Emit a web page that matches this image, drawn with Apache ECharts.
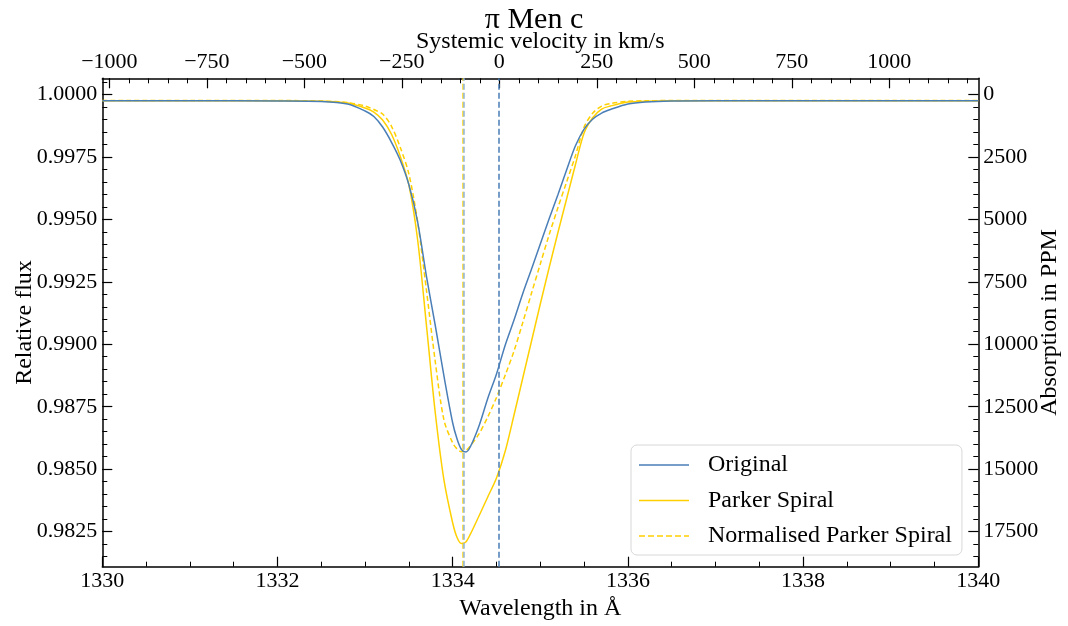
<!DOCTYPE html>
<html><head><meta charset="utf-8">
<script src="https://cdn.jsdelivr.net/npm/echarts@6/dist/echarts.min.js"></script>
<style>html,body{margin:0;padding:0;background:#fff}#c{width:1068px;height:626px}</style>
</head><body><div id="c"></div>
<script>
// ---- data ----
const wavelength = [1330, 1331, 1332, 1332.5, 1332.8, 1333.0, 1333.1, 1333.2, 1333.3, 1333.4, 1333.5, 1333.6, 1333.7, 1333.8, 1333.9, 1334.0, 1334.05, 1334.1, 1334.15, 1334.2, 1334.3, 1334.4, 1334.5, 1334.6, 1334.7, 1334.8, 1334.9, 1335.0, 1335.1, 1335.2, 1335.3, 1335.4, 1335.5, 1335.6, 1335.7, 1335.8, 1336.0, 1336.2, 1336.5, 1337, 1338, 1339, 1340];
const original = [0.99974, 0.99974, 0.99973, 0.99971, 0.99961, 0.99933, 0.99911, 0.99869, 0.99809, 0.99737, 0.99638, 0.99489, 0.99273, 0.99077, 0.98873, 0.98685, 0.98621, 0.98579, 0.98569, 0.98589, 0.98673, 0.98783, 0.98881, 0.98997, 0.99097, 0.99203, 0.99301, 0.99401, 0.99501, 0.99597, 0.99697, 0.99793, 0.99861, 0.99901, 0.99925, 0.99939, 0.99961, 0.99969, 0.99973, 0.99974, 0.99974, 0.99974, 0.99974];
const parker = [0.99974, 0.99974, 0.99974, 0.99972, 0.99965, 0.99945, 0.99929, 0.99897, 0.99841, 0.99753, 0.99637, 0.99417, 0.99077, 0.98729, 0.98457, 0.98285, 0.98227, 0.98203, 0.98209, 0.98239, 0.98313, 0.98389, 0.98465, 0.98573, 0.98717, 0.98865, 0.99013, 0.99161, 0.99305, 0.99445, 0.99581, 0.99717, 0.99845, 0.99907, 0.99941, 0.99953, 0.99969, 0.99972, 0.99974, 0.99974, 0.99974, 0.99974, 0.99974];
const normalised = [0.99975, 0.99975, 0.99975, 0.99973, 0.99967, 0.99953, 0.99939, 0.99921, 0.99873, 0.99789, 0.99681, 0.99489, 0.99217, 0.98933, 0.98697, 0.98605, 0.98581, 0.98570, 0.98575, 0.98593, 0.98641, 0.98709, 0.98787, 0.98877, 0.98973, 0.99087, 0.99205, 0.99321, 0.99437, 0.99545, 0.99649, 0.99753, 0.99869, 0.99925, 0.99953, 0.99963, 0.99972, 0.99974, 0.99975, 0.99975, 0.99975, 0.99975, 0.99975];
const verticalLines = [1334.53, 1334.105, 1334.135];   // rest wavelength, Parker minimum, original minimum

const fluxTicks = [0.9825, 0.9850, 0.9875, 0.9900, 0.9925, 0.9950, 0.9975, 1.0000];
const ppmTicks = [0, 2500, 5000, 7500, 10000, 12500, 15000, 17500];
const velocityTicks = [-1000, -750, -500, -250, 0, 250, 500, 750, 1000];
const wavelengthTicks = [1330, 1332, 1334, 1336, 1338, 1340];

// axis ranges
const LAM_MIN = 1330, LAM_MAX = 1340;
const FLUX_MIN = 0.98110, FLUX_MAX = 1.00064;
const VEL_MIN = -1018.1, VEL_MAX = 1228.3;

// minor tick positions
const fluxMinor = [], ppmMinor = [], velMinor = [];
for (let i = 0; i <= 40; i++) { const v = +(0.9810 + i * 0.0005).toFixed(4); if (v > FLUX_MIN && v < FLUX_MAX) fluxMinor.push(v); }
for (let v = 0; v <= 18500; v += 500) ppmMinor.push(v);
for (let v = -1000; v <= 1200; v += 50) velMinor.push(v);

const BLUE = '#4a7eb7';
const YELLOW = '#ffd000';
const FONT = '"Liberation Serif", "DejaVu Serif", serif';
const fmtMinus = v => (v < 0 ? '\u2212' + Math.abs(v) : String(v));

const pairs = arr => wavelength.map((w, i) => [w, arr[i]]);

const axisLineStyle = { color: '#000', width: 1.5 };
const majorTick = { show: true, inside: true, length: 10, lineStyle: { color: '#000', width: 1.2 } };
const minorTickStyle = { show: true, inside: true, length: 5, lineStyle: { color: '#000', width: 1 } };
const labelStyle = { color: '#000', fontFamily: FONT, fontSize: 22 };
const nameStyle = { fontFamily: FONT, fontSize: 24, color: '#000' };
const line = (show) => ({ show: show, onZero: false, lineStyle: axisLineStyle });

const ICON_SOLID = 'path://M0,0H50V1.6H0Z';
const ICON_DASH = 'path://M0,0H6V1.6H0Z M9,0H15V1.6H9Z M18,0H24V1.6H18Z M27,0H33V1.6H27Z M36,0H42V1.6H36Z M45,0H50V1.6H45Z';

const chart = echarts.init(document.getElementById('c'), null, { renderer: 'canvas' });
chart.setOption({
  animation: false,
  backgroundColor: '#fff',
  title: { text: 'π Men c', left: 'center', top: 0, textStyle: { fontFamily: FONT, fontSize: 30, fontWeight: 'normal', color: '#000' } },
  grid: { left: 102.3, right: 89.7, top: 78.3, bottom: 59.3, containLabel: false, outerBoundsMode: 'none' },
  legend: {
    orient: 'vertical', left: 631, top: 445,
    padding: [8, 10, 7, 8],
    itemWidth: 50, itemHeight: 14, itemGap: 11.5,
    backgroundColor: 'rgba(255,255,255,0.85)', borderColor: '#d8d8d8', borderWidth: 1, borderRadius: 6,
    textStyle: { fontFamily: FONT, fontSize: 24, color: '#000', padding: [0, 0, 0, 14] },
    data: [
      { name: 'Original', icon: ICON_SOLID },
      { name: 'Parker Spiral', icon: ICON_SOLID },
      { name: 'Normalised Parker Spiral', icon: ICON_DASH }
    ]
  },
  xAxis: [
    { type: 'value', position: 'bottom', min: LAM_MIN, max: LAM_MAX, interval: 2,
      name: 'Wavelength in Å', nameLocation: 'middle', nameGap: 30, nameMoveOverlap: false,
      nameTextStyle: nameStyle,
      axisLine: line(true), axisTick: majorTick,
      minorTick: Object.assign({ splitNumber: 4 }, minorTickStyle),
      axisLabel: Object.assign({ margin: 4, customValues: wavelengthTicks, formatter: v => String(v) }, labelStyle),
      splitLine: { show: false }, minorSplitLine: { show: false } },
    { type: 'value', position: 'top', min: VEL_MIN, max: VEL_MAX,
      name: 'Systemic velocity in km/s', nameLocation: 'middle', nameGap: 25, nameMoveOverlap: false,
      nameTextStyle: nameStyle,
      axisLine: line(true),
      axisTick: Object.assign({ customValues: velocityTicks }, majorTick),
      axisLabel: Object.assign({ margin: 5, customValues: velocityTicks, formatter: fmtMinus }, labelStyle),
      splitLine: { show: false } },
    { type: 'value', position: 'top', min: VEL_MIN, max: VEL_MAX,
      axisLine: line(false), axisTick: Object.assign({ customValues: velMinor }, minorTickStyle),
      axisLabel: { show: false }, splitLine: { show: false } }
  ],
  yAxis: [
    { type: 'value', position: 'left', min: FLUX_MIN, max: FLUX_MAX,
      name: 'Relative flux', nameLocation: 'middle', nameGap: 66, nameRotate: 90, nameMoveOverlap: false,
      nameTextStyle: nameStyle,
      axisLine: line(true),
      axisTick: Object.assign({ customValues: fluxTicks }, majorTick),
      axisLabel: Object.assign({ margin: 5, customValues: fluxTicks, formatter: v => v.toFixed(4) }, labelStyle),
      splitLine: { show: false } },
    { type: 'value', position: 'right', inverse: true, min: -(FLUX_MAX - 1) * 1e6, max: (1 - FLUX_MIN) * 1e6,
      name: 'Absorption in PPM', nameLocation: 'middle', nameGap: 59, nameRotate: 90, nameMoveOverlap: false,
      nameTextStyle: nameStyle,
      axisLine: line(true),
      axisTick: Object.assign({ customValues: ppmTicks }, majorTick),
      axisLabel: Object.assign({ margin: 5, customValues: ppmTicks, formatter: v => String(v) }, labelStyle),
      splitLine: { show: false } },
    { type: 'value', position: 'left', min: FLUX_MIN, max: FLUX_MAX,
      axisLine: line(false), axisTick: Object.assign({ customValues: fluxMinor }, minorTickStyle),
      axisLabel: { show: false }, splitLine: { show: false } },
    { type: 'value', position: 'right', inverse: true, min: -(FLUX_MAX - 1) * 1e6, max: (1 - FLUX_MIN) * 1e6,
      axisLine: line(false), axisTick: Object.assign({ customValues: ppmMinor }, minorTickStyle),
      axisLabel: { show: false }, splitLine: { show: false } }
  ],
  series: [
    { name: 'Original', type: 'line', xAxisIndex: 0, yAxisIndex: 0, data: pairs(original),
      symbol: 'none', smooth: 0.3, z: 4, color: BLUE, lineStyle: { color: BLUE, width: 1.5 },
      markLine: { silent: true, symbol: 'none', label: { show: false },
        data: [
          { xAxis: verticalLines[0], lineStyle: { color: BLUE, type: [6, 3], width: 1.5 } },
          { xAxis: verticalLines[1], lineStyle: { color: YELLOW, type: [6, 3], width: 1.5, opacity: 0.9 } },
          { xAxis: verticalLines[2], lineStyle: { color: '#8fb4da', type: [6, 3], width: 1.5 } }
        ] } },
    { name: 'Parker Spiral', type: 'line', xAxisIndex: 0, yAxisIndex: 0, data: pairs(parker),
      symbol: 'none', smooth: 0.3, z: 3, color: YELLOW, lineStyle: { color: YELLOW, width: 1.5 } },
    { name: 'Normalised Parker Spiral', type: 'line', xAxisIndex: 0, yAxisIndex: 0, data: pairs(normalised),
      symbol: 'none', smooth: 0.3, z: 3, color: YELLOW, lineStyle: { color: YELLOW, width: 1.5, type: [5, 3] } }
  ]
});
</script></body></html>
